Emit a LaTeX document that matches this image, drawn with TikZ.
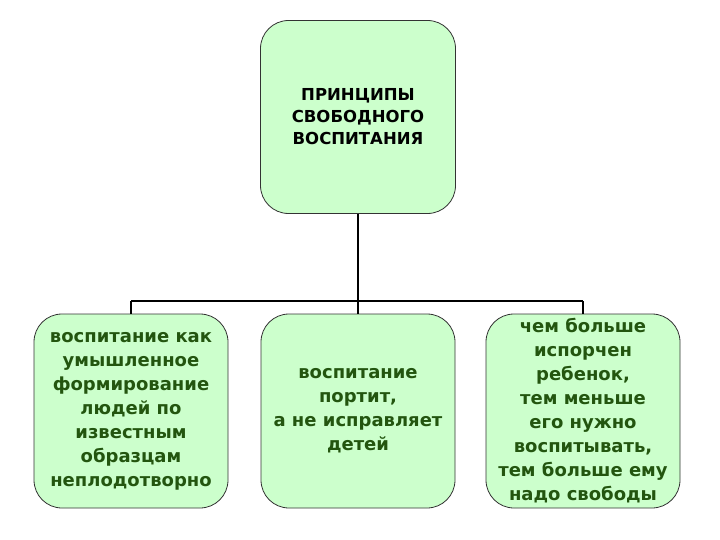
\documentclass[tikz,border=0pt]{standalone}
\usepackage{fontspec}
\setmainfont{DejaVu Sans}
\usepackage{tikz}
\usetikzlibrary{positioning}
\definecolor{boxfill}{RGB}{204,255,204}
\definecolor{boxtext}{RGB}{35,85,15}

\begin{document}
\begin{tikzpicture}[x=1pt, y=-1pt,
    box/.style={draw=black!80, line width=0.8pt, fill=boxfill, rounded corners=28pt, align=center, inner sep=0pt},
    bottombox/.style={box, minimum width=194pt, minimum height=194pt, text=boxtext, font=\bfseries\fontsize{18}{24}\selectfont},
    link/.style={line width=1.6pt}]
    \useasboundingbox (0,0) rectangle (720,540);
    \node[box, minimum width=195pt, minimum height=193pt, font=\bfseries\fontsize{16.5}{22}\selectfont] (top) at (358,117) {ПРИНЦИПЫ\\СВОБОДНОГО\\ВОСПИТАНИЯ};
    \node[bottombox] (left) at (131,411) {воспитание как\\умышленное\\формирование\\людей по\\известным\\образцам\\неплодотворно};
    \node[bottombox] (mid) at (358,411) {воспитание\\портит,\\а не исправляет\\детей};
    \node[bottombox] (right) at (583,411) {чем больше\\испорчен\\ребенок,\\тем меньше\\его нужно\\воспитывать,\\тем больше ему\\надо свободы};
    \coordinate (lft) at (131,301);
    \coordinate (rgt) at (583,301);
    \draw[link] (top.south) -- (mid.north);
    \draw[link] (lft) -- (rgt);
    \draw[link] (lft) -- (left.north);
    \draw[link] (rgt) -- (right.north);
\end{tikzpicture}
\end{document}
